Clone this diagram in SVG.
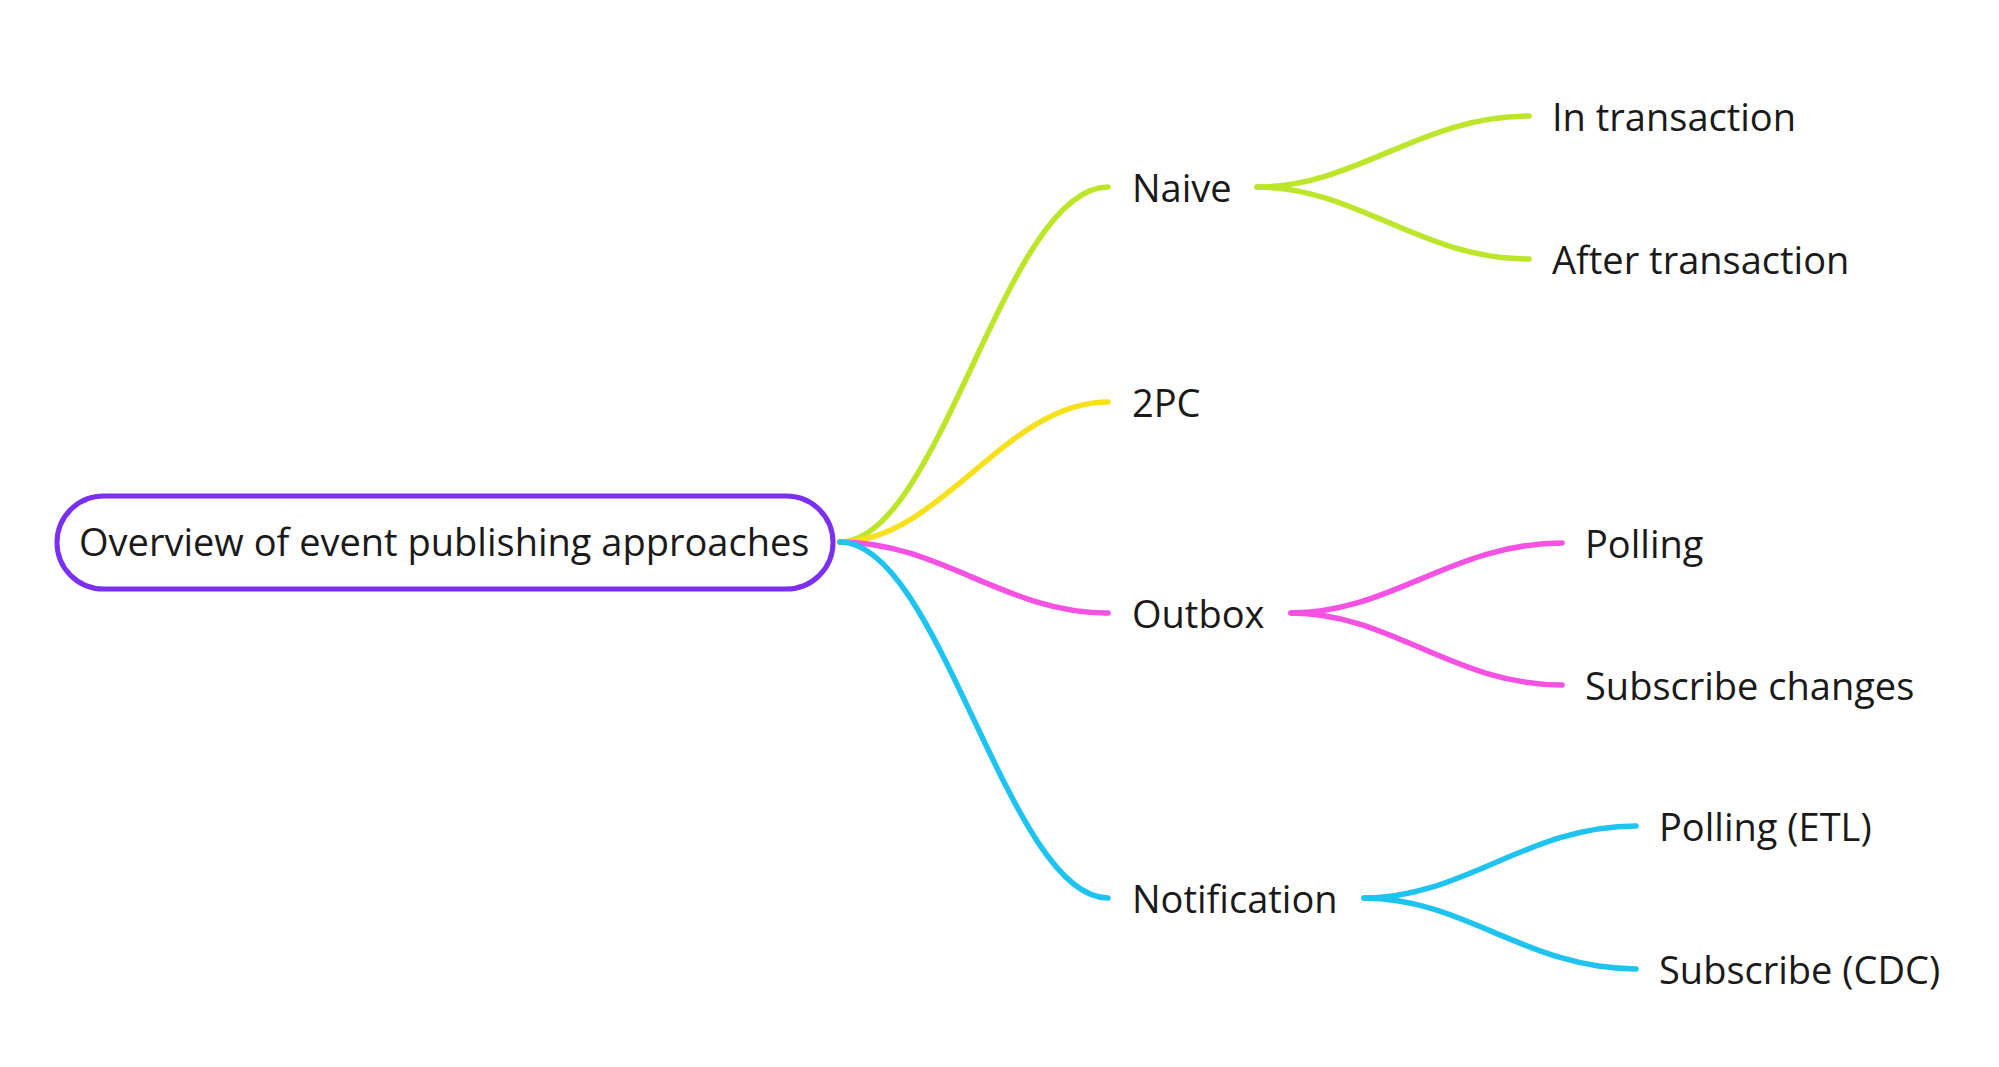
<svg xmlns="http://www.w3.org/2000/svg" width="1999" height="1067" viewBox="0 0 1999 1067">
<style>
text{font-family:"Open Sans","Noto Sans","Liberation Sans",sans-serif;font-size:38px;fill:#1a1a1a}
.c{fill:none;stroke-width:5.5;stroke-linecap:round}
.g{stroke:#BCE62A}.y{stroke:#F7E11C}.m{stroke:#F552E3}.b{stroke:#1EC3F0}
</style>
<rect width="1999" height="1067" fill="#ffffff"/>
<g id="connectors">
<path class="c g" d="M840,542 C940,542 1005,187 1108,187"/>
<path class="c y" d="M840,542 C940,542 1005,402 1108,402"/>
<path class="c m" d="M840,542 C940,542 1005,613 1108,613"/>
<path class="c b" d="M840,542 C940,542 1008,898 1108,898"/>
<path class="c g" d="M1257,187 C1357,187 1420,116 1529,116"/>
<path class="c g" d="M1257,187 C1357,187 1420,259 1529,259"/>
<path class="c m" d="M1291,613 C1391,613 1453,543 1562,543"/>
<path class="c m" d="M1291,613 C1391,613 1453,685 1562,685"/>
<path class="c b" d="M1364,898 C1464,898 1527,826 1636,826"/>
<path class="c b" d="M1364,898 C1464,898 1527,969 1636,969"/>
</g>
<g id="root">
<rect x="57" y="496" width="776" height="93" rx="46.5" fill="#ffffff" stroke="#7B2FEF" stroke-width="5"/>
<text x="79" y="556" font-size="38.2">Overview of event publishing approaches</text>
</g>
<g id="naive"><text x="1132" y="202">Naive</text></g>
<g id="in-transaction"><text x="1552" y="131">In transaction</text></g>
<g id="after-transaction"><text x="1552" y="274">After transaction</text></g>
<g id="twopc"><text x="1132" y="417">2PC</text></g>
<g id="outbox"><text x="1132" y="628">Outbox</text></g>
<g id="polling"><text x="1585" y="558">Polling</text></g>
<g id="subscribe-changes"><text x="1585" y="700">Subscribe changes</text></g>
<g id="notification"><text x="1132" y="913">Notification</text></g>
<g id="polling-etl"><text x="1659" y="841">Polling (ETL)</text></g>
<g id="subscribe-cdc"><text x="1659" y="984">Subscribe (CDC)</text></g>
</svg>
